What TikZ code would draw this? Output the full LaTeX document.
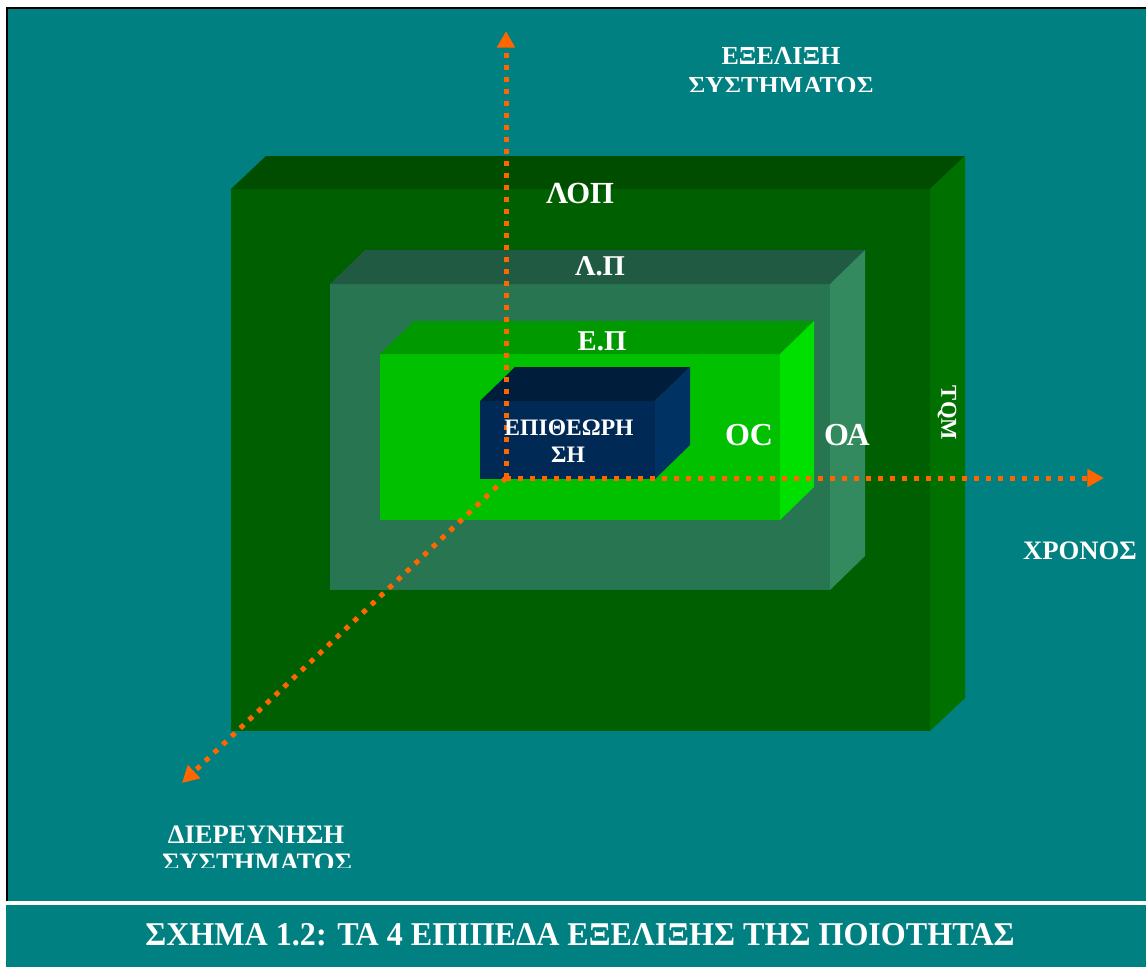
\documentclass[tikz,border=0pt]{standalone}
\usepackage{fontspec}
\usepackage{graphicx}
\setmainfont{Liberation Serif}
\usetikzlibrary{arrows.meta,calc}
\definecolor{bgteal}{HTML}{008080}
\definecolor{axisorange}{HTML}{FF6600}
\definecolor{aFront}{HTML}{005F00}
\definecolor{aTop}{HTML}{004D00}
\definecolor{aSide}{HTML}{007000}
\definecolor{bFront}{HTML}{287552}
\definecolor{bTop}{HTML}{215A42}
\definecolor{bSide}{HTML}{338A5E}
\definecolor{cFront}{HTML}{00C000}
\definecolor{cTop}{HTML}{009900}
\definecolor{cSide}{HTML}{00E000}
\definecolor{dFront}{HTML}{002A55}
\definecolor{dTop}{HTML}{001E3C}
\definecolor{dSide}{HTML}{003264}
\newcommand\fs[1]{\fontsize{#1}{#1}\selectfont\bfseries}
% \cuboid{x1}{y1}{x2}{y2}{dx}{dy}{front}{top}{side}
\newcommand\cuboid[9]{%
  \fill[#7] (#1,#2) rectangle (#3,#4);
  \fill[#8] (#1,#2) -- ++(#5,#6) -- ($(#3,#2)+(#5,#6)$) -- (#3,#2) -- cycle;
  \fill[#9] (#3,#2) -- ++(#5,#6) -- ($(#3,#4)+(#5,#6)$) -- (#3,#4) -- cycle;
}
\begin{document}
\begin{tikzpicture}[x=0.75pt,y=-0.75pt,
  lbl/.style={text=white,inner sep=0pt,anchor=center},
  axis/.style={draw=axisorange,line width=3.75pt,dash pattern=on 3.75pt off 5.25pt,
    -{Triangle[length=12.5pt,width=13pt]}}]
\useasboundingbox (0,0) rectangle (1146,967);
\fill[white] (0,0) rectangle (1146,967);
% main panel
\fill[bgteal] (6,7) rectangle (1146,901);
\draw[black,line width=1.5pt] (6.5,901) -- (6.5,7.5) -- (1146,7.5);
% caption panel
\fill[bgteal] (6,905) rectangle (1146,967);

% boxes
\cuboid{231}{189}{930}{731}{35}{-33}{aFront}{aTop}{aSide}
\cuboid{330}{284}{830}{590}{35}{-34}{bFront}{bTop}{bSide}
\cuboid{380}{354}{780}{520}{34}{-33}{cFront}{cTop}{cSide}
\cuboid{480}{401}{655}{479}{35}{-34}{dFront}{dTop}{dSide}

% axes
\coordinate (O) at (506,478);
\coordinate (up) at (506,31);
\coordinate (right) at (1104,478);
\coordinate (down) at (182,783);
\draw[axis] (O) -- (up);
\draw[axis] (O) -- (right);
\draw[axis] (O) -- (down);

% labels
\node[lbl,font=\fs{19.5pt}] (evo1) at (781,56) {ΕΞΕΛΙΞΗ};
\begin{scope}
  \clip (650,60) rectangle (920,91);
  \node[lbl,font=\fs{19.5pt},anchor=north] (evo2) at (781,77) {ΣΥΣΤΗΜΑΤΟΣ};
\end{scope}
\node[lbl,font=\fs{23pt}] (lop) at (580,193) {ΛΟΠ};
\node[lbl,font=\fs{21.5pt}] (lp) at (600,266) {Λ.Π};
\begin{scope}
  \clip (560,320) rectangle (650,350);
  \node[lbl,font=\fs{21.5pt},anchor=north] (ep) at (602,331) {Ε.Π};
\end{scope}
\node[lbl,font=\fs{17.7pt}] (insp1) at (569,428) {ΕΠΙΘΕΩΡΗ};
\node[lbl,font=\fs{17.7pt}] (insp2) at (568,455) {ΣΗ};
\node[lbl,font=\fs{24pt}] (qc) at (749,435) {OC};
\node[lbl,font=\fs{24pt}] (qa) at (847,435) {ΟΑ};
\node[lbl,font=\fs{17pt},rotate=-90] (tqm) at (947,413) {TQM};
\node[lbl,font=\fs{20pt}] (time) at (1080,551) {ΧΡΟΝΟΣ};
\node[lbl,font=\fs{20pt}] (inv1) at (256,835) {ΔΙΕΡΕΥΝΗΣΗ};
\begin{scope}
  \clip (120,845) rectangle (400,867);
  \node[lbl,font=\fs{20pt},anchor=north] (inv2) at (257,854) {ΣΥΣΤΗΜΑΤΟΣ};
\end{scope}
\node[lbl,font=\fs{25pt}] (caption) at (580,935)
  {\resizebox{652pt}{16.5pt}{ΣΧΗΜΑ 1.2: ΤΑ 4 ΕΠΙΠΕΔΑ ΕΞΕΛΙΞΗΣ ΤΗΣ ΠΟΙΟΤΗΤΑΣ}};
\end{tikzpicture}
\end{document}
